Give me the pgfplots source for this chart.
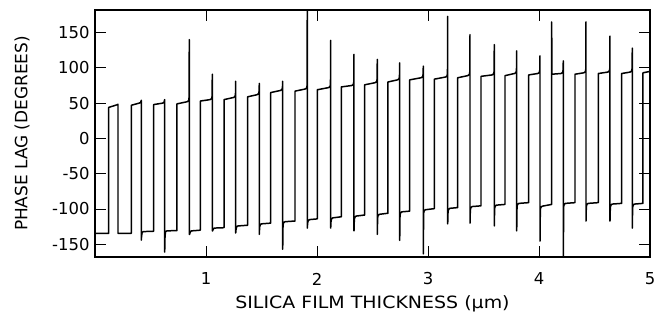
\documentclass[border=0pt]{standalone}
\usepackage{fontspec}
\setmainfont{DejaVu Sans}
\usepackage{graphicx}
\usepackage{pgfplots}
\pgfplotsset{compat=1.18}
\begin{document}
\begin{tikzpicture}
\useasboundingbox (-95bp,-65bp) rectangle (565bp,257bp);
\begin{axis}[
  at={(0,0)}, anchor=south west,
  scale only axis, width=555bp, height=247bp,
  xmin=0, xmax=5, ymin=-168, ymax=182,
  xtick={1,2,3,4,5}, xticklabels={1,2,3,4,5},
  ytick={-150,-100,-50,0,50,100,150}, yticklabels={-150,-100,-50,0,50,100,150},
  major tick length=11bp,
  tick style={line width=1pt, black},
  axis line style={line width=1.3pt},
  tick label style={font=\fontsize{16.5}{19}\selectfont},
  xticklabel style={anchor=center, yshift=-22bp},
  yticklabel style={anchor=east, xshift=-2bp},
  xlabel={\scalebox{1.12}[1]{SILICA FILM THICKNESS (µm)}},
  ylabel={PHASE LAG (DEGREES)},
  every axis x label/.style={at={(axis description cs:0.5,0)}, yshift=-47bp, anchor=center, font=\fontsize{17}{20}\selectfont},
  every axis y label/.style={at={(axis description cs:0,0.5)}, xshift=-73bp, rotate=90, anchor=center, font=\fontsize{17}{20}\selectfont},
]
\addplot[black, line width=1.5pt, line join=round] coordinates {
(0,-134.5)
(0.1234,-134.5) (0.1234,44) (0.195,47.5) (0.2072,48.5) (0.2072,-134.5) (0.227,-134.5)
(0.3270,-134.5) (0.3270,47) (0.397,50) (0.411,51) (0.415,53) (0.4171,54) (0.4171,-144) (0.420,-138) (0.425,-133) (0.437,-132)
(0.5288,-131.5) (0.5288,48) (0.608,50) (0.622,51) (0.626,54) (0.6279,55) (0.6279,-161) (0.631,-138) (0.636,-132) (0.648,-131)
(0.7387,-130.5) (0.7387,49) (0.8295,52) (0.8435,53.5) (0.8475,58) (0.8495,140) (0.8495,-136) (0.8525,-136) (0.8575,-132.5) (0.8695,-131)
(0.9486,-130) (0.9486,53) (1.0368,55) (1.0508,56.5) (1.0548,60) (1.0568,91) (1.0568,-131) (1.0598,-131) (1.0648,-128.5) (1.0768,-127)
(1.1622,-126.5) (1.1622,55) (1.2476,58) (1.2616,59.5) (1.2656,63) (1.2676,81) (1.2676,-134) (1.2706,-129) (1.2756,-125.5) (1.2876,-124)
(1.3757,-123) (1.3757,59) (1.4602,62) (1.4742,63.5) (1.4782,67) (1.4802,78) (1.4802,-136) (1.4832,-126) (1.4882,-122.5) (1.5002,-121)
(1.5829,-120) (1.5829,65) (1.6710,68) (1.6850,69.5) (1.6890,73) (1.6910,81) (1.6910,-157) (1.6940,-123) (1.6990,-119.5) (1.7110,-118)
(1.8018,-117) (1.8018,67) (1.8926,70) (1.9066,71.5) (1.9106,75) (1.9126,195) (1.9126,-127) (1.9156,-120) (1.9206,-116.5) (1.9326,-115)
(2.0027,-114) (2.0027,69) (2.1034,72) (2.1174,73.5) (2.1214,77) (2.1234,139) (2.1234,-127) (2.1264,-117.5) (2.1314,-114) (2.1434,-112.5)
(2.2189,-111) (2.2189,73) (2.3133,75) (2.3273,76.5) (2.3313,80) (2.3333,119) (2.3333,-131) (2.3363,-115) (2.3413,-111.5) (2.3533,-110)
(2.4297,-108.5) (2.4297,76) (2.5232,79) (2.5372,80.5) (2.5412,84) (2.5432,112) (2.5432,-136) (2.5462,-112.5) (2.5512,-109) (2.5632,-107.5)
(2.6396,-106) (2.6396,80) (2.7250,83) (2.7390,84.5) (2.7430,88) (2.7450,107) (2.7450,-144.5) (2.7480,-109) (2.7530,-105.5) (2.7650,-104)
(2.8351,-103) (2.8351,83) (2.9377,86) (2.9517,87.5) (2.9557,91) (2.9577,102.5) (2.9577,-163.5) (2.9607,-106) (2.9657,-102.5) (2.9777,-101)
(3.0568,-99.5) (3.0568,84) (3.1575,87) (3.1715,88.5) (3.1755,92) (3.1775,173) (3.1775,-121) (3.1805,-104) (3.1855,-100.5) (3.1975,-99)
(3.2676,-98) (3.2676,86) (3.3584,89) (3.3724,90.5) (3.3764,94) (3.3784,147) (3.3784,-120) (3.3814,-101.5) (3.3864,-98) (3.3984,-96.5)
(3.4775,-95.5) (3.4775,88) (3.5773,90) (3.5913,91.5) (3.5953,95) (3.5973,133) (3.5973,-124) (3.6003,-99.5) (3.6053,-96) (3.6173,-94.5)
(3.6937,-93.5) (3.6937,89) (3.7791,92) (3.7931,93.5) (3.7971,97) (3.7991,124) (3.7991,-131) (3.8021,-97) (3.8071,-93.5) (3.8191,-92)
(3.9072,-91) (3.9072,90) (3.9890,92) (4.0030,93.5) (4.0070,97) (4.0090,117) (4.0090,-145.5) (4.0120,-101) (4.0170,-97.5) (4.0290,-96)
(4.1144,-93.5) (4.1144,165) (4.1160,91) (4.1989,92) (4.2129,93.5) (4.2169,97) (4.2189,110) (4.2189,-190) (4.2219,-97) (4.2269,-93.5) (4.2389,-92)
(4.3243,-91) (4.3243,91) (4.4034,93) (4.4174,94.5) (4.4214,98) (4.4234,165) (4.4234,-117) (4.4264,-97) (4.4314,-93.5) (4.4434,-92)
(4.5342,-91) (4.5342,92) (4.6196,94) (4.6336,95.5) (4.6376,99) (4.6396,145) (4.6396,-117) (4.6426,-98) (4.6476,-94.5) (4.6596,-93)
(4.7450,-92) (4.7450,92) (4.8205,94) (4.8345,95.5) (4.8385,99) (4.8405,128) (4.8405,-127) (4.8435,-98) (4.8485,-94.5) (4.8605,-93)
(4.9369,-92) (4.9369,93) (5.0,95)
};
\end{axis}
\end{tikzpicture}
\end{document}
